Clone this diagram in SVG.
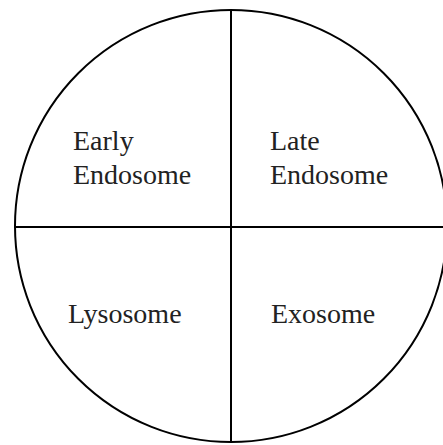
<svg xmlns="http://www.w3.org/2000/svg" width="443" height="445" viewBox="0 0 443 445">
<style>
.l{stroke:#000;stroke-width:2;fill:none}
text{font-family:"Liberation Serif","Times New Roman",serif;font-size:28px;fill:#222}
</style>
<rect width="443" height="445" fill="#fff"/>
<g id="connectors">
<circle class="l" cx="231" cy="226" r="216"/>
<line class="l" x1="14" y1="227" x2="443" y2="227"/>
<line class="l" x1="231" y1="10" x2="231" y2="442"/>
</g>
<g id="early"><text x="73" y="150">Early</text><text x="73" y="184">Endosome</text></g>
<g id="late"><text x="270" y="150">Late</text><text x="270" y="184">Endosome</text></g>
<g id="lysosome"><text x="68" y="323">Lysosome</text></g>
<g id="exosome"><text x="271" y="323">Exosome</text></g>
</svg>
